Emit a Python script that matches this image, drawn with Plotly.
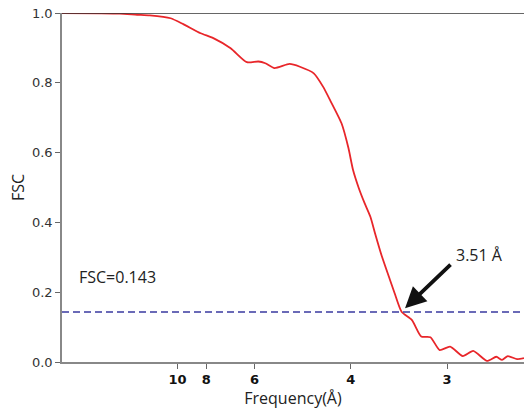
import plotly.graph_objects as go

# FSC curve (spatial frequency in 1/Å, FSC value)
freq = [0.000, 0.033, 0.050, 0.065, 0.076, 0.094, 0.105, 0.120, 0.131, 0.146,
        0.160, 0.170, 0.176, 0.184, 0.197, 0.206, 0.218, 0.226, 0.232, 0.242,
        0.248, 0.252, 0.257, 0.262, 0.267, 0.271, 0.277, 0.284, 0.288, 0.294,
        0.303, 0.311, 0.319, 0.327, 0.336, 0.347, 0.356, 0.368, 0.376, 0.381,
        0.386, 0.394, 0.400]
fsc = [1.000, 0.999, 0.998, 0.995, 0.993, 0.985, 0.968, 0.942, 0.928, 0.899,
       0.859, 0.861, 0.856, 0.842, 0.854, 0.846, 0.827, 0.789, 0.751, 0.684,
       0.613, 0.550, 0.498, 0.455, 0.416, 0.369, 0.302, 0.235, 0.197, 0.144,
       0.120, 0.073, 0.071, 0.034, 0.044, 0.017, 0.032, 0.003, 0.015, 0.006,
       0.017, 0.008, 0.011]

# x tick labels: resolution in Å
res_ticks = [10, 8, 6, 4, 3]
tick_labels = ["10", "8", "6", "4", "3"]

threshold = 0.143
resolution_label = "3.51 Å"
arrow_point = (0.297, 0.154)

fig = go.Figure()

fig.add_trace(go.Scatter(
    x=freq, y=fsc, mode="lines",
    line=dict(color="#e8262a", width=1.8, shape="spline", smoothing=0.6),
    showlegend=False, hoverinfo="skip", cliponaxis=True,
))

# threshold dashed line
fig.add_trace(go.Scatter(
    x=[0, 0.4], y=[threshold, threshold], mode="lines",
    line=dict(color="#3a3aa0", width=1.5, dash="7px,4px"),
    showlegend=False, hoverinfo="skip",
))

# top border line at FSC = 1
fig.add_shape(type="line", xref="paper", yref="y", x0=0, x1=1, y0=1, y1=1,
              line=dict(color="#333333", width=1.5))

fig.add_annotation(x=0.013, y=0.243, xref="x", yref="y", text="FSC=0.143",
                   showarrow=False, xanchor="left", yanchor="middle",
                   font=dict(family="Open Sans", size=16, color="#222222"))

fig.add_annotation(x=arrow_point[0], y=arrow_point[1], xref="x", yref="y",
                   ax=47, ay=-45, text="", showarrow=True,
                   arrowhead=2, arrowsize=1.1, arrowwidth=3.8, arrowcolor="#111111")

fig.add_annotation(x=0.339, y=0.306, xref="x", yref="y", text=resolution_label,
                   showarrow=False, xanchor="left", yanchor="middle",
                   font=dict(family="Open Sans", size=16, color="#222222"))

fig.update_layout(
    width=524, height=416,
    margin=dict(l=62, r=0, t=13, b=54, autoexpand=False),
    paper_bgcolor="white", plot_bgcolor="white",
    xaxis=dict(
        range=[0, 0.4], showgrid=False, zeroline=False,
        showline=True, linecolor="#888888", linewidth=1.5,
        ticks="outside", ticklen=5, tickwidth=1.2, tickcolor="#666666",
        tickvals=[1.0 / r for r in res_ticks], ticktext=tick_labels,
        tickfont=dict(family="DejaVu Sans", size=13, color="#111111", weight="bold"),
        title=dict(text="Frequency(Å)", standoff=6,
                   font=dict(family="Open Sans", size=16, color="#222222")),
    ),
    yaxis=dict(
        range=[0, 1], showgrid=False, zeroline=False,
        showline=True, linecolor="#888888", linewidth=1.5,
        ticks="outside", ticklen=5, tickwidth=1.2, tickcolor="#666666",
        tickvals=[0, 0.2, 0.4, 0.6, 0.8, 1.0],
        ticktext=["0.0", "0.2", "0.4", "0.6", "0.8", "1.0"],
        tickfont=dict(family="DejaVu Sans", size=13, color="#333333"),
        title=dict(text="FSC", standoff=3,
                   font=dict(family="Open Sans", size=16, color="#222222")),
    ),
)

fig.write_html("out.html",
               config={"displayModeBar": False},
               post_script="document.body.style.margin='0';document.body.style.overflow='hidden';")
